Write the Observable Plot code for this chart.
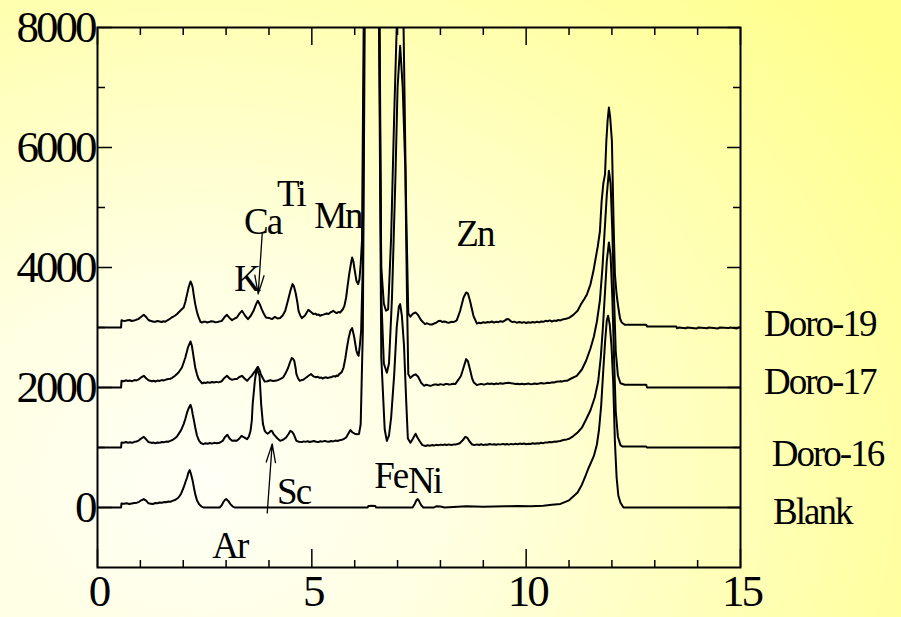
<!DOCTYPE html>
<html>
<head>
<meta charset="utf-8">
<script src="https://cdn.jsdelivr.net/npm/d3@7"></script>
<script src="https://cdn.jsdelivr.net/npm/@observablehq/plot@0.6"></script>
<style>
  html, body { margin: 0; padding: 0; width: 901px; height: 617px; overflow: hidden; }
  body { background: radial-gradient(ellipse 95% 115% at 22% 78%, #fffff6 0%, #ffffe2 30%, #ffffb6 65%, #ffff8c 100%); }
  #chart svg { display: block; }
  #chart svg text { font-family: "Liberation Serif", "Times New Roman", serif; }
  /* condensed lettering for the large tick labels and annotations */
  #chart g[font-size="45"] { letter-spacing: -3px; }
  #chart g[font-size="37"] { letter-spacing: -2px; }
</style>
</head>
<body>
<div id="chart"></div>
<script>
// X-ray fluorescence spectra: [energy keV, net counts] for each sample.
const blank = [
  [0,0],[0.55,0],[0.56,67],[0.62,62],[0.68,72],[0.74,58],[0.8,66],[0.86,74],[0.92,80],[0.97,95],[1.02,120],[1.08,140],[1.14,110],
  [1.19,70],[1.24,64],[1.29,58],[1.35,75],[1.4,70],[1.45,83],[1.5,78],[1.55,90],[1.6,86],[1.65,100],[1.7,96],[1.75,111],[1.82,130],[1.89,167],[1.95,230],
  [2.01,334],[2.05,420],[2.09,500],[2.12,580],[2.15,623],[2.18,560],[2.22,445],[2.25,330],[2.28,223],[2.32,120],
  [2.37,56],[2.42,20],[2.47,0],[2.85,0],[2.9,40],[2.93,83],[2.97,125],[3.0,140],[3.05,110],[3.1,56],
  [3.15,20],[3.2,0],[6.3,0],[6.32,25],[6.4,30],[6.48,25],[6.5,0],[7.35,0],[7.4,60],[7.44,120],
  [7.47,140],[7.5,110],[7.55,40],[7.6,0],[7.85,0],[7.9,20],[8.0,15],[8.1,0],[8.3,10],[8.6,20],
  [9.0,12],[9.5,20],[9.8,25],[10.1,20],[10.4,30],[10.6,45],[10.8,60],[11.0,120],[11.2,250],[11.3,380],
  [11.38,520],[11.45,650],[11.52,760],[11.58,860],[11.65,1050],[11.7,1300],[11.75,1700],[11.8,2300],[11.84,2750],[11.88,3111],
  [11.91,3195],[11.95,3050],[11.99,2700],[12.03,2100],[12.07,1100],[12.11,500],[12.15,200],[12.2,80],[12.27,0],[15,0]
];

const doro16 = [
  [0,0],[0.55,0],[0.56,83],[0.61,78],[0.66,92],[0.71,80],[0.76,86],[0.81,78],[0.86,95],[0.91,100],[0.96,115],[1.02,150],[1.08,178],[1.14,130],
  [1.19,90],[1.23,85],[1.27,76],[1.31,82],[1.35,70],[1.4,84],[1.45,78],[1.5,92],[1.55,88],[1.6,98],[1.65,96],[1.7,110],[1.75,125],[1.8,150],[1.85,180],[1.89,223],[1.95,290],[2.01,390],
  [2.05,480],[2.09,584],[2.13,660],[2.17,712],[2.2,640],[2.22,556],[2.25,450],[2.28,334],[2.32,200],[2.37,111],
  [2.42,70],[2.47,56],[2.52,72],[2.57,62],[2.62,74],[2.67,64],[2.72,78],[2.78,70],[2.85,80],[2.92,110],[2.97,170],[3.03,212],[3.08,150],[3.14,111],
  [3.2,115],[3.25,111],[3.31,150],[3.36,195],[3.42,170],[3.49,139],[3.53,180],[3.57,278],[3.6,450],[3.62,723],
  [3.65,950],[3.67,1111],[3.7,1250],[3.72,1306],[3.75,1250],[3.78,1195],[3.8,950],[3.82,700],[3.86,390],[3.9,280],
  [3.93,250],[3.97,230],[4.0,245],[4.04,278],[4.07,275],[4.11,220],[4.15,190],[4.2,150],[4.26,111],[4.33,130],
  [4.4,167],[4.46,230],[4.5,278],[4.54,260],[4.58,220],[4.64,111],[4.7,95],[4.77,90],[4.81,102],[4.85,94],[4.9,105],[4.95,92],
  [5.0,100],[5.05,108],[5.1,96],[5.15,90],[5.2,104],[5.25,98],[5.3,110],[5.35,100],[5.4,95],[5.45,108],[5.5,102],[5.55,115],[5.6,108],[5.65,122],[5.7,128],[5.74,140],[5.8,167],[5.86,240],
  [5.9,290],[5.95,250],[6.0,230],[6.05,220],[6.1,223],[6.14,390],[6.19,1945],[6.25,9000],[6.4,18000],[6.55,9000],
  [6.62,1500],[6.7,300],[6.75,110],[6.8,200],[6.85,500],[6.92,1200],[6.98,2000],[7.03,2350],[7.06,2390],[7.1,2200],
  [7.15,1700],[7.2,800],[7.24,150],[7.3,80],[7.36,150],[7.42,230],[7.46,170],[7.52,100],[7.58,40],[7.65,25],
  [7.7,38],[7.75,28],[7.8,40],[7.85,32],[7.9,44],[7.95,38],[8.0,48],[8.05,40],[8.1,50],[8.15,42],[8.2,52],[8.25,40],[8.3,48],[8.35,50],[8.4,58],[8.45,70],[8.52,120],[8.58,178],
  [8.63,160],[8.68,100],[8.74,50],[8.8,40],[8.85,52],[8.9,42],[8.95,55],[9.0,40],[9.05,50],[9.1,45],[9.15,58],[9.2,48],[9.25,55],[9.3,45],
  [9.35,56],[9.4,48],[9.45,60],[9.5,50],[9.55,58],[9.6,48],[9.65,60],[9.7,52],[9.75,62],[9.8,55],[9.85,65],[9.9,58],[9.95,66],[10.0,55],
  [10.05,62],[10.1,58],[10.15,70],[10.2,62],[10.25,72],[10.3,66],[10.35,78],[10.4,72],[10.45,85],[10.5,82],[10.55,92],[10.6,88],[10.65,98],[10.7,95],[10.75,105],[10.8,108],[10.85,122],[10.9,130],[10.95,135],[11.0,145],
  [11.1,190],[11.2,250],[11.3,330],[11.4,470],[11.5,620],[11.6,834],[11.68,1100],[11.74,1500],[11.79,2000],[11.84,2600],
  [11.88,3100],[11.93,3417],[11.97,3200],[12.01,2500],[12.05,1500],[12.09,600],[12.14,180],[12.2,40],[12.25,15],[12.8,15],
  [12.82,0],[15,0]
];

const doro17 = [
  [0,0],[0.55,0],[0.56,111],[0.61,104],[0.66,120],[0.71,108],[0.76,115],[0.81,104],[0.86,125],[0.91,118],[0.96,135],[1.02,170],[1.08,195],[1.14,150],
  [1.19,120],[1.23,112],[1.27,104],[1.31,112],[1.35,100],[1.4,116],[1.45,110],[1.5,124],[1.55,118],[1.6,132],[1.65,140],[1.7,146],[1.74,160],[1.81,195],[1.89,250],[1.97,333],
  [2.05,500],[2.11,667],[2.17,767],[2.2,700],[2.22,611],[2.25,470],[2.28,333],[2.32,220],[2.36,140],[2.44,67],
  [2.48,82],[2.52,76],[2.57,88],[2.62,78],[2.67,92],[2.72,84],[2.77,94],[2.82,85],[2.9,105],[2.96,160],[3.02,195],[3.08,150],[3.14,128],[3.2,140],
  [3.25,140],[3.31,175],[3.37,195],[3.43,150],[3.49,111],[3.55,160],[3.6,195],[3.64,240],[3.68,278],[3.74,345],
  [3.78,290],[3.81,223],[3.86,150],[3.9,100],[3.96,105],[4.03,120],[4.1,110],[4.18,115],[4.26,140],[4.33,167],
  [4.39,240],[4.45,333],[4.49,420],[4.53,490],[4.56,480],[4.59,445],[4.62,330],[4.64,223],[4.68,150],[4.72,111],
  [4.76,124],[4.8,130],[4.87,167],[4.93,200],[4.98,223],[5.04,185],[5.1,170],[5.14,178],[5.18,160],[5.22,168],[5.25,150],[5.29,162],[5.33,170],[5.37,158],[5.4,165],
  [5.45,170],[5.48,182],[5.52,190],[5.55,180],[5.58,200],[5.61,192],[5.64,223],[5.7,260],[5.74,333],[5.78,480],[5.82,667],[5.86,830],[5.9,945],
  [5.94,990],[5.97,900],[5.99,833],[6.02,700],[6.04,612],[6.07,550],[6.09,528],[6.12,700],[6.15,945],[6.19,2056],
  [6.25,10000],[6.4,20000],[6.55,10000],[6.62,1500],[6.68,400],[6.75,245],[6.8,400],[6.87,1500],[6.95,3500],[7.0,5000],
  [7.06,5695],[7.12,5000],[7.18,3660],[7.22,1500],[7.25,223],[7.3,160],[7.36,200],[7.42,220],[7.48,180],[7.55,80],
  [7.62,28],[7.66,44],[7.7,40],[7.75,30],[7.8,35],[7.85,48],[7.9,50],[7.95,42],[8.0,56],[8.04,48],[8.08,45],[8.12,58],[8.15,60],[8.2,50],[8.25,55],[8.3,64],[8.35,60],[8.42,130],
  [8.48,195],[8.54,333],[8.6,473],[8.64,440],[8.69,300],[8.74,150],[8.78,83],[8.85,40],[8.9,52],[8.95,60],[9.0,50],[9.05,55],
  [9.1,68],[9.15,58],[9.2,65],[9.25,55],[9.3,66],[9.35,60],[9.4,72],[9.45,62],[9.5,70],[9.55,76],[9.6,80],[9.65,72],[9.7,65],[9.75,58],[9.8,64],[9.85,55],[9.9,62],[9.95,54],[10.0,60],
  [10.05,66],[10.1,56],[10.15,58],[10.2,68],[10.25,60],[10.3,65],[10.35,74],[10.4,66],[10.45,70],[10.5,80],[10.55,75],[10.6,86],[10.65,82],[10.7,95],[10.75,98],[10.8,105],[10.85,102],[10.9,112],[10.95,111],[11.05,150],[11.18,195],[11.3,300],[11.4,450],[11.5,650],[11.58,850],
  [11.65,1100],[11.72,1450],[11.78,2000],[11.83,2600],[11.88,3200],[11.93,3612],[11.97,3400],[12.01,2600],[12.05,1500],[12.09,600],
  [12.14,200],[12.2,70],[12.3,45],[12.8,45],[12.82,0],[15,0]
];

const doro19 = [
  [0,0],[0.55,0],[0.56,120],[0.6,112],[0.65,110],[0.7,122],[0.75,125],[0.8,108],[0.85,115],[0.9,128],[0.95,140],[1.02,180],[1.08,212],[1.14,170],
  [1.19,125],[1.23,112],[1.27,105],[1.31,96],[1.35,95],[1.4,108],[1.45,100],[1.5,92],[1.54,104],[1.58,95],[1.62,115],[1.66,130],[1.7,150],[1.73,167],[1.77,180],[1.81,200],[1.85,222],[1.89,250],[1.96,300],
  [2.01,333],[2.05,430],[2.09,556],[2.13,680],[2.17,767],[2.2,720],[2.22,667],[2.25,520],[2.28,390],[2.32,260],
  [2.36,167],[2.4,96],[2.44,83],[2.48,98],[2.52,95],[2.56,84],[2.6,90],[2.65,104],[2.7,100],[2.75,88],[2.8,92],[2.85,102],[2.9,110],[2.96,170],[3.02,212],[3.08,160],
  [3.14,123],[3.2,150],[3.25,167],[3.31,230],[3.37,278],[3.44,200],[3.51,139],[3.58,200],[3.64,278],[3.7,390],
  [3.74,445],[3.79,380],[3.83,306],[3.88,230],[3.93,167],[4.0,160],[4.07,140],[4.14,178],[4.2,150],[4.26,157],
  [4.32,200],[4.38,278],[4.44,440],[4.5,612],[4.55,723],[4.58,690],[4.62,583],[4.66,430],[4.69,278],[4.73,200],
  [4.77,157],[4.84,200],[4.92,295],[4.98,260],[5.04,223],[5.08,232],[5.12,210],[5.16,218],[5.19,195],[5.23,208],[5.27,215],[5.31,224],[5.35,234],[5.39,226],[5.43,250],
  [5.47,262],[5.5,278],[5.54,256],[5.58,240],[5.62,258],[5.66,250],[5.72,300],[5.76,361],[5.8,500],[5.83,667],[5.87,880],[5.91,1056],[5.94,1167],
  [5.97,1100],[5.99,1000],[6.02,870],[6.04,778],[6.08,723],[6.11,800],[6.14,1056],[6.17,1445],[6.22,6000],[6.3,17000],
  [6.4,23000],[6.5,17000],[6.56,6000],[6.62,1000],[6.68,400],[6.73,280],[6.78,300],[6.85,1500],[6.92,3500],[6.98,5000],
  [7.06,6500],[7.14,5000],[7.2,2000],[7.25,230],[7.3,180],[7.36,230],[7.42,250],[7.47,215],[7.55,120],[7.64,56],
  [7.68,70],[7.72,60],[7.76,48],[7.8,50],[7.85,66],[7.9,80],[7.96,110],[8.0,111],[8.05,90],[8.08,100],[8.12,95],[8.16,84],[8.2,80],[8.25,94],[8.3,90],[8.34,102],[8.38,120],
  [8.46,278],[8.54,500],[8.6,583],[8.64,570],[8.69,445],[8.73,320],[8.77,195],[8.85,67],[8.9,80],[8.95,72],[9.0,88],[9.05,78],
  [9.1,92],[9.15,85],[9.2,100],[9.25,82],[9.3,95],[9.35,88],[9.4,105],[9.45,95],[9.5,115],[9.55,140],[9.6,135],[9.64,105],[9.68,90],[9.72,98],[9.78,80],
  [9.84,92],[9.9,78],[9.95,90],[10.0,75],[10.05,88],[10.1,80],[10.15,92],[10.2,82],[10.25,95],[10.3,85],[10.35,100],[10.4,95],[10.45,112],[10.5,105],
  [10.55,118],[10.6,100],[10.65,115],[10.7,108],[10.75,125],[10.8,118],[10.85,135],[10.9,140],[10.95,150],[11.0,160],[11.1,210],[11.2,280],[11.28,390],
  [11.36,480],[11.42,556],[11.5,720],[11.57,945],[11.62,1150],[11.67,1350],[11.72,1600],[11.76,2100],[11.8,2400],[11.84,2557],
  [11.87,3100],[11.9,3450],[11.93,3667],[11.96,3500],[12.0,3112],[12.04,1723],[12.07,890],[12.11,550],[12.15,333],[12.19,150],
  [12.23,83],[12.3,45],[12.8,45],[12.82,17],[13.5,17],[13.52,-12],[13.56,0],[13.72,-12],[13.76,0],[13.98,-15],
  [14.02,0],[14.22,-12],[14.26,0],[14.48,-15],[14.52,0],[14.72,-10],[14.76,0],[14.92,-15],[14.96,0],[15,0]
];

// Vertical offset of each spectrum and its label
const sampleNames = ["Blank", "Doro-16", "Doro-17", "Doro-19"];
const sampleOffsets = [0, 1000, 2000, 3000];
const sampleSpectra = [blank, doro16, doro17, doro19];
const sampleLabelEnergy = [15.76, 15.73, 15.55, 15.55];
const sampleLabelCounts = [-272, 695, 1895, 2862];

// Element annotations (left edge / baseline of the text)
const elementNames = ["K", "Ca", "Ti", "Mn", "Zn", "Sc", "Fe", "Ni", "Ar"];
const elementEnergy = [3.19, 3.42, 4.19, 5.055, 8.37, 4.19, 6.455, 7.245, 2.675];
const elementCounts = [3612, 4562, 5028, 4662, 4362, 62, 328, 245, -838];

// Pointer arrows: Ca line on Doro-19, Sc line on Doro-16
const arrowFrom = [[3.842, 4562], [3.96, -90]];
const arrowTo = [[3.749, 3560], [4.075, 1060]];

// Axis ticks
const energyMajor = [0, 5, 10, 15];
const energyMinor = [1, 2, 3, 4, 6, 7, 8, 9, 11, 12, 13, 14];
const countMajor = [0, 2000, 4000, 6000, 8000];
const countMinor = [1000, 3000, 5000, 7000];

const rows = sampleNames.flatMap((name, i) =>
  sampleSpectra[i].map(([energy, net]) => ({name, energy, counts: net + sampleOffsets[i]}))
);
const sampleLabels = sampleNames.map((name, i) => ({name, x: sampleLabelEnergy[i], y: sampleLabelCounts[i]}));
const elementLabels = elementNames.map((name, i) => ({name, x: elementEnergy[i], y: elementCounts[i]}));
const arrows = arrowFrom.map((a, i) => ({x1: a[0], y1: a[1], x2: arrowTo[i][0], y2: arrowTo[i][1]}));

const W = 901, H = 617, ML = 97, MR = 161, MT = 27, MB = 50;
const innerW = W - ML - MR, innerH = H - MT - MB;
const serif = "Liberation Serif";

const chart = Plot.plot({
  width: W,
  height: H,
  marginLeft: ML,
  marginRight: MR,
  marginTop: MT,
  marginBottom: MB,
  x: {domain: [0, 15], axis: null},
  y: {domain: [-1000, 8000], axis: null},
  style: {
    background: "transparent",
    color: "black",
    fontFamily: serif,
    overflow: "visible"
  },
  marks: [
    Plot.line(rows, {x: "energy", y: "counts", z: "name", stroke: "black", strokeWidth: 2, strokeLinejoin: "round", clip: true}),
    // inward ticks on all four sides
    Plot.ruleX(energyMajor, {x: d => d, stroke: "black", strokeWidth: 1.5, insetTop: innerH - 18}),
    Plot.ruleX(energyMinor, {x: d => d, stroke: "black", strokeWidth: 1.5, insetTop: innerH - 7}),
    Plot.ruleX(energyMajor, {x: d => d, stroke: "black", strokeWidth: 1.5, insetBottom: innerH - 18}),
    Plot.ruleX(energyMinor, {x: d => d, stroke: "black", strokeWidth: 1.5, insetBottom: innerH - 8}),
    Plot.ruleY(countMajor, {y: d => d, stroke: "black", strokeWidth: 1.5, insetRight: innerW - 15}),
    Plot.ruleY(countMinor, {y: d => d, stroke: "black", strokeWidth: 1.5, insetRight: innerW - 8}),
    Plot.ruleY(countMajor, {y: d => d, stroke: "black", strokeWidth: 1.5, insetLeft: innerW - 13}),
    Plot.ruleY(countMinor, {y: d => d, stroke: "black", strokeWidth: 1.5, insetLeft: innerW - 7}),
    Plot.frame({stroke: "black", strokeWidth: 2}),
    // tick labels
    Plot.text(countMajor, {y: d => d, frameAnchor: "left", text: d => String(d), textAnchor: "end", lineAnchor: "middle", dx: -3, fontSize: 45, fontFamily: serif, fill: "black"}),
    Plot.text(energyMajor, {x: d => d, frameAnchor: "bottom", text: d => String(d), lineAnchor: "middle", dy: 24, dx: 1, fontSize: 45, fontFamily: serif, fill: "black"}),
    // arrows
    Plot.arrow(arrows, {x1: "x1", y1: "y1", x2: "x2", y2: "y2", stroke: "black", strokeWidth: 1.3, headLength: 22, headAngle: 28}),
    // annotations
    Plot.text(elementLabels, {x: "x", y: "y", text: "name", textAnchor: "start", lineAnchor: "bottom", fontSize: 37, fontFamily: serif, fill: "black"}),
    Plot.text(sampleLabels, {x: "x", y: "y", text: "name", textAnchor: "start", lineAnchor: "bottom", fontSize: 37, fontFamily: serif, fill: "black"})
  ]
});

document.getElementById("chart").appendChild(chart);
</script>
</body>
</html>
